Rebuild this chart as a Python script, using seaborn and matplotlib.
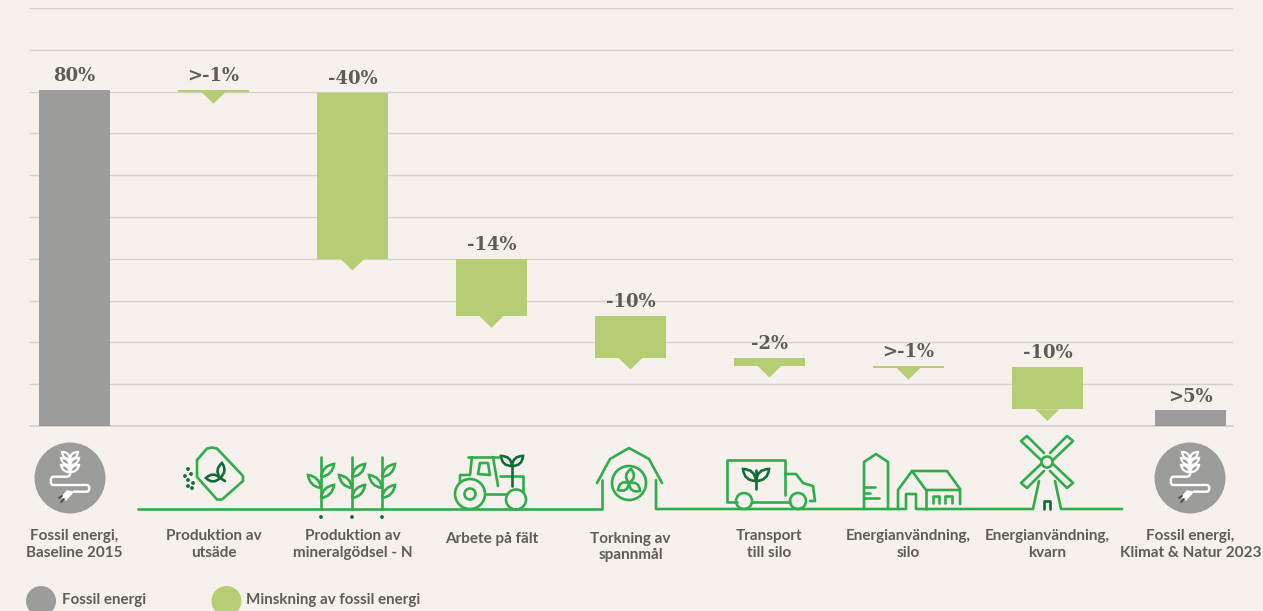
import pandas as pd
import matplotlib.pyplot as plt
import matplotlib.patches as mpatches
from matplotlib.path import Path
import seaborn as sns

# Data
categories = ['Fossil energi,\nBaseline 2015', 'Produktion av\nutsäde', 'Produktion av\nmineralgödsel - N',
              'Arbete på fält', 'Torkning av\nspannmål', 'Transport\ntill silo',
              'Energianvändning,\nsilo', 'Energianvändning,\nkvarn', 'Fossil energi,\nKlimat & Natur 2023']
kinds = ['fossil', 'minskning', 'minskning', 'minskning', 'minskning', 'minskning', 'minskning', 'minskning', 'fossil']
bar_tops = [80.4, 80.4, 79.7, 40.0, 26.3, 16.3, 14.4, 14.1, 3.8]
bar_bottoms = [0, 79.9, 40.0, 26.3, 16.3, 14.4, 13.9, 4.0, 0]
value_labels = ['80%', '>-1%', '-40%', '-14%', '-10%', '-2%', '>-1%', '-10%', '>5%']
legend_labels = ['Fossil energi', 'Minskning av fossil energi']
grid_ticks = list(range(0, 101, 10))

BG = '#f6f1ed'
GREY = '#9c9c9a'
LIME = '#b5cd73'
GRID = '#d5d1cc'
TEXT = '#5c5c58'
LINE = '#30ad4b'
DARK = '#0f6d36'
LABEL_FONT = 'Lato'
VALUE_FONT = 'DejaVu Serif'
LW = 1.9

sns.set_style('white')
plt.rcParams['font.family'] = [LABEL_FONT, 'DejaVu Sans']

W, H = 1263, 611
fig = plt.figure(figsize=(W / 100, H / 100), dpi=100, facecolor=BG)
ax = fig.add_axes([30 / W, 1 - 426 / H, 1203 / W, 418 / H], facecolor=BG)

df = pd.DataFrame({'category': categories, 'kind': kinds, 'top': bar_tops, 'bottom': bar_bottoms})
df['height'] = df['top'] - df['bottom']
fossil = df[df['kind'] == 'fossil']
drop = df[df['kind'] == 'minskning']
sns.barplot(data=fossil, x='category', y='height', order=categories, color=GREY, width=0.51,
            saturation=1, linewidth=0, ax=ax, zorder=3)
sns.barplot(data=drop, x='category', y='height', order=categories, color=LIME, width=0.51,
            saturation=1, bottom=drop['bottom'].values, linewidth=0, ax=ax, zorder=3)

ax.set_xlim(-0.32, 8.335)
ax.set_ylim(0, 100)
ax.set_yticks(grid_ticks)
ax.set_xticks([])
ax.tick_params(labelleft=False, left=False)
ax.set_xlabel('')
ax.set_ylabel('')
ax.grid(axis='y', color=GRID, lw=1, zorder=0)
ax.set_axisbelow(True)
sns.despine(ax=ax, left=True, right=True, top=True, bottom=False)
ax.spines['bottom'].set_color('#cfcbc6')
ax.spines['bottom'].set_linewidth(1.1)

# the last column sits a little further out than the regular spacing
last_shift = 0.028
for p in ax.patches:
    if p.get_x() > 7.5:
        p.set_x(p.get_x() + last_shift)
centers = [i + (last_shift if i == 8 else 0) for i in range(len(categories))]

# pointers under the green bars and the value labels
for i, row in df.iterrows():
    c = centers[i]
    if row['kind'] == 'minskning':
        ax.fill([c - 0.086, c + 0.086, c], [row['bottom'], row['bottom'], row['bottom'] - 2.8],
                color=LIME, lw=0, zorder=3)
    ax.annotate(value_labels[i], (c, row['top']), xytext=(0, 9.8), textcoords='offset points',
                ha='center', va='center', family=VALUE_FONT, weight='bold', fontsize=13, color=TEXT)

# category labels, pixel offset below the axis
label_offsets = [118.5, 118.5, 118.5, 112.5, 121, 118.5, 118.5, 118.5, 118.5]
for i, lab in enumerate(categories):
    ax.annotate(lab, (centers[i], 0), xytext=(0, -label_offsets[i] * 0.72), textcoords='offset points',
                ha='center', va='center', fontsize=11, weight='bold', color=TEXT, linespacing=1.2,
                annotation_clip=False)

# overlay in pixel coordinates for the icons and legend
ov = fig.add_axes([0, 0, 1, 1], facecolor='none')
ov.set_xlim(0, W)
ov.set_ylim(H, 0)
ov.axis('off')


def line(pts, color=LINE, lw=LW, closed=False):
    if closed:
        pts = list(pts) + [pts[0]]
    ov.plot([p[0] for p in pts], [p[1] for p in pts], color=color, lw=lw,
            solid_joinstyle='round', solid_capstyle='round')


def circle(x, y, r, color=LINE, lw=LW, fill=False):
    ov.add_patch(mpatches.Circle((x, y), r, facecolor=color if fill else 'none',
                                 edgecolor=color if not fill else 'none', lw=0 if fill else lw))


def leaf(a, b, bulge, color=LINE, lw=LW):
    # lens shape between two points
    mx, my = (a[0] + b[0]) / 2, (a[1] + b[1]) / 2
    dx, dy = b[0] - a[0], b[1] - a[1]
    n = (dx ** 2 + dy ** 2) ** 0.5
    nx, ny = -dy / n * bulge, dx / n * bulge
    verts = [a, (mx + nx, my + ny), b, (mx - nx, my - ny), a]
    codes = [Path.MOVETO, Path.CURVE3, Path.CURVE3, Path.CURVE3, Path.CURVE3]
    ov.add_patch(mpatches.PathPatch(Path(verts, codes), facecolor='none', edgecolor=color, lw=lw))


def fossil_icon(cx):
    cy = 478
    circle(cx, cy, 35.5, color=GREY, fill=True)
    line([(cx, cy - 22), (cx, cy - 4)], color='white', lw=1.6)
    for y0, half in [(-6, 9), (-13, 9), (-19, 8)]:
        leaf((cx, cy + y0), (cx - half, cy + y0 - 7), 5, color='white', lw=1.6)
        leaf((cx, cy + y0), (cx + half, cy + y0 - 7), 5, color='white', lw=1.6)
    x = lambda d: cx + d
    verts = [(x(0), cy - 4), (x(0), cy - 1.3), (x(-4), cy - 1.3), (x(-17), cy - 1.3),
             (x(-20), cy - 1.3), (x(-20), cy + 7), (x(-17), cy + 7), (x(17), cy + 7),
             (x(20), cy + 7), (x(20), cy + 13.7), (x(17), cy + 13.7), (x(3), cy + 13.7)]
    codes = [Path.MOVETO, Path.CURVE3, Path.CURVE3, Path.LINETO, Path.CURVE4, Path.CURVE4, Path.CURVE4,
             Path.LINETO, Path.CURVE4, Path.CURVE4, Path.CURVE4, Path.LINETO]
    ov.add_patch(mpatches.PathPatch(Path(verts, codes), facecolor='none', edgecolor='white', lw=1.7))
    ov.add_patch(mpatches.Polygon([(x(3), cy + 14), (x(-3), cy + 13), (x(-8), cy + 19), (x(-4), cy + 22)],
                                  facecolor='white', edgecolor='white', lw=1))
    line([(x(-8), cy + 18), (x(-11), cy + 20)], color='#444444', lw=1.3)
    line([(x(-6), cy + 21), (x(-9), cy + 24)], color='#444444', lw=1.3)


fossil_icon(70)
fossil_icon(1190)

# ground line with the barn and windmill gaps
line([(138, 509), (602, 509), (602, 480)])
line([(656, 480), (656, 509), (906, 509), (906, 494), (916, 494), (916, 509), (1033, 509), (1039, 481)])
line([(1055, 481), (1061, 509), (1122, 509)])

# seed bag
line([(197, 460), (207, 448.5), (212, 447.5), (217, 448.5), (243, 476), (243, 481), (222, 499.5),
      (217, 499.5), (197, 477)], closed=True)
leaf((220, 478), (222, 463), 7, color=DARK)
leaf((220, 478), (206, 478), 7, color=DARK)
line([(220, 478), (225, 481)], color=DARK)
for sx, sy in [(188, 469), (191, 474), (185, 476), (188, 480), (193, 483), (188, 486), (192, 488)]:
    circle(sx, sy, 1.9, color=DARK, fill=True)

# plants
for sx in [321, 352, 382]:
    line([(sx, 457), (sx, 509)])
    leaf((sx, 477), (sx + 13, 464), 7)
    leaf((sx, 498), (sx + 13, 485), 7)
    leaf((sx, 488), (sx - 13, 475), 7)
    circle(sx, 517, 1.9, color=DARK, fill=True)

# tractor
circle(470, 494, 15)
circle(470, 494, 5.5)
circle(516, 499.5, 10)
line([(486, 494), (507, 494)])
line([(460, 483), (460, 475), (470, 475), (472, 457)])
line([(468, 457), (499, 457)])
line([(493, 457), (498, 486)])
line([(480, 463), (488, 463), (490, 475), (478, 474)], closed=True)
line([(500, 476), (523, 476), (523, 492)])
line([(512, 465), (512, 486)], color=DARK)
leaf((512, 466), (501, 456), 7, color=DARK)
leaf((512, 466), (523, 456), 7, color=DARK)

# barn
line([(597, 483), (610, 459), (629, 448), (649, 459), (662, 483)])
circle(629, 483, 17)
leaf((629, 483), (631, 469), 8)
leaf((629, 483), (618, 490), 8)
leaf((629, 483), (640, 491), 8)

# truck
line([(737, 502), (727, 502), (727, 460), (785, 460), (785, 495)])
line([(752, 502), (790, 502)])
circle(744, 501, 8)
circle(798, 501, 8)
line([(785, 474), (796, 474), (803, 483), (813, 486), (815, 501), (810, 501)])
line([(756, 470), (756, 489)], color=DARK)
leaf((756, 481), (743, 469), 8, color=DARK)
leaf((756, 481), (769, 469), 8, color=DARK)

# silo and farm house
line([(864, 509), (864, 462), (876, 454), (888, 462), (888, 509)])
line([(864, 487), (875, 487)])
line([(864, 492.5), (870, 492.5)])
line([(864, 498), (879, 498)])
line([(898, 509), (898, 490), (912, 471), (947, 471), (960, 489), (960, 504)])
line([(912, 471), (926, 490), (960, 490)])
line([(926, 490), (926, 509)])
line([(933, 503), (933, 496), (939, 496), (939, 503)])
line([(945, 503), (945, 496), (952, 496), (952, 503)])

# windmill
cx, cy = 1047, 462
circle(cx, cy, 5.5)
for sx in (-1, 1):
    for sy in (-1, 1):
        line([(cx + sx * 6, cy + sy * 2), (cx + sx * 26, cy + sy * 21), (cx + sx * 20, cy + sy * 26),
              (cx + sx * 3, cy + sy * 9)])
line([(1044, 509), (1044, 501), (1050, 501), (1050, 509)], color=DARK)

# legend
for lx, col, tx, lab in zip([41, 226.5], [GREY, LIME], [62, 246], legend_labels):
    ov.add_patch(mpatches.Circle((lx, 601), 15, facecolor=col, edgecolor='none'))
    ov.text(tx, 600, lab, ha='left', va='center', fontsize=10.9, weight='bold', color=TEXT)

fig.savefig('out.png', dpi=100, facecolor=BG)
